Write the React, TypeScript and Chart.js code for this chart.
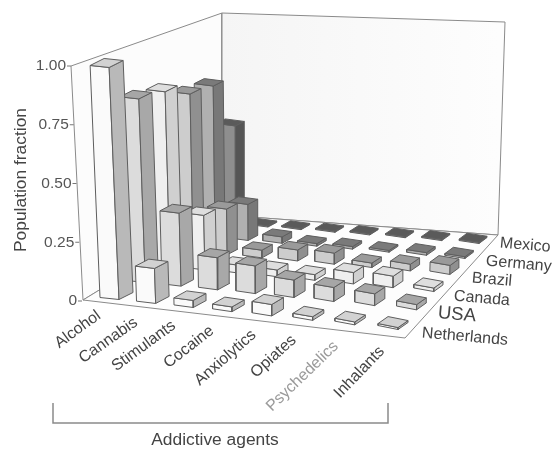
import React, { useEffect, useRef } from "react";
import { Chart, registerables } from "chart.js";

Chart.register(...registerables);

const categories = ["Alcohol", "Cannabis", "Stimulants", "Cocaine", "Anxiolytics", "Opiates", "Psychedelics", "Inhalants"];
const countries = ["Netherlands", "USA", "Canada", "Brazil", "Germany", "Mexico"];
const yTicks = [0, 0.25, 0.5, 0.75, 1];
const yTickLabels = ["0", "0.25", "0.50", "0.75", "1.00"];

const netherlands = [1.0, 0.15, 0.03, 0.02, 0.048, 0.015, 0.012, 0.008];
const usa = [0.81, 0.32, 0.14, 0.12, 0.075, 0.06, 0.05, 0.022];
const canada = [0.79, 0.245, 0.035, 0.03, 0.025, 0.05, 0.05, 0.015];
const brazil = [0.73, 0.21, 0.035, 0.05, 0.05, 0.02, 0.03, 0.04];
const germany = [0.72, 0.17, 0.03, 0.012, 0.012, 0.008, 0.012, 0.008];
const mexico = [0.48, 0.006, 0.006, 0.006, 0.006, 0.006, 0.006, 0.006];
const seriesValues = [netherlands, usa, canada, brazil, germany, mexico];

// face shades per country: front, side, top
const frontColors = ["#fafafa", "#dcdcdc", "#efefef", "#cdcdcd", "#b0b0b0", "#8e8e8e"];
const sideColors = ["#b9b9b9", "#a8a8a8", "#d0d0d0", "#909090", "#787878", "#555555"];
const topColors = ["#d2d2d2", "#a6a6a6", "#dedede", "#9a9a9a", "#7a7a7a", "#5a5a5a"];

type Pt = [number, number];

// projection of the box
const cornerL: Pt = [83, 300];
const cornerF: Pt = [405, 338];
const cornerB: Pt = [222, 215];
const cornerR: Pt = [498, 235];
const topL: Pt = [71, 66];
const topB: Pt = [222, 13];
const topR: Pt = [505, 22];
const yZeroPx = 301;
const yOnePx = 66;
const canvasW = 553;
const canvasH = 449;

function squareToQuad(p0: Pt, p1: Pt, p2: Pt, p3: Pt) {
  const dx1 = p1[0] - p2[0], dx2 = p3[0] - p2[0], sx = p0[0] - p1[0] + p2[0] - p3[0];
  const dy1 = p1[1] - p2[1], dy2 = p3[1] - p2[1], sy = p0[1] - p1[1] + p2[1] - p3[1];
  const den = dx1 * dy2 - dx2 * dy1;
  const g = (sx * dy2 - dx2 * sy) / den;
  const h = (dx1 * sy - sx * dy1) / den;
  const a = p1[0] - p0[0] + g * p1[0], b = p3[0] - p0[0] + h * p3[0], c = p0[0];
  const d = p1[1] - p0[1] + g * p1[1], e = p3[1] - p0[1] + h * p3[1], f = p0[1];
  return (u: number, v: number): Pt => {
    const w = g * u + h * v + 1;
    return [(a * u + b * v + c) / w, (d * u + e * v + f) / w];
  };
}

const cellCentre = squareToQuad([116.5, 295], [393, 324], [473, 239], [230.5, 221]);

function bilinear(u: number, v: number, a: Pt, b: Pt, c: Pt, d: Pt): Pt {
  const f = (k: 0 | 1) =>
    (1 - u) * (1 - v) * a[k] + u * (1 - v) * b[k] + u * v * c[k] + (1 - u) * v * d[k];
  return [f(0), f(1)];
}

function boxFaces(i: number, j: number, value: number) {
  const u = i / 7, v = j / 5;
  const c = cellCentre(u, v);
  const fv = bilinear(u, v, [19, 2], [20, 4], [20, 3], [19, 2.5]);
  const sv = bilinear(u, v, [14, -7], [10, -7], [8, -6], [9, -4.5]);
  const up = bilinear((i + 0.5) / 8, (j + 0.5) / 6, [-12, -234], [7, -245], [7, -213], [0, -202]);
  const base = (a: number, b: number): Pt => [c[0] + a * fv[0] + b * sv[0], c[1] + a * fv[1] + b * sv[1]];
  const lift = (p: Pt): Pt => [p[0] + up[0] * value, p[1] + up[1] * value];
  const fl = base(-0.5, -0.5), fr = base(0.5, -0.5), br = base(0.5, 0.5), bl = base(-0.5, 0.5);
  return {
    front: [fl, fr, lift(fr), lift(fl)],
    side: [fr, br, lift(br), lift(fr)],
    top: [lift(fl), lift(fr), lift(br), lift(bl)],
  };
}

const toY = (py: number) => (yZeroPx - py) / (yZeroPx - yOnePx);
const yMin = toY(canvasH);
const yMax = toY(0);
const toData = (pts: Pt[]) => pts.map((p) => ({ x: p[0], y: toY(p[1]) }));

function polygon(pts: Pt[], fill: any, stroke: string, width = 1) {
  const closed = [...pts, pts[0]];
  return {
    data: toData(closed),
    backgroundColor: fill,
    borderColor: stroke,
    borderWidth: width,
    fill: "shape",
    pointRadius: 0,
    tension: 0,
    clip: false,
  };
}

function segment(pts: Pt[], stroke: string, width = 1) {
  return {
    data: toData(pts),
    borderColor: stroke,
    borderWidth: width,
    fill: false,
    pointRadius: 0,
    tension: 0,
    clip: false,
  };
}

const lerp = (a: number, b: number, t: number) => a + (b - a) * t;
const axisX = (value: number) => lerp(cornerL[0] - 1, topL[0], value);

const categoryLabelAnchors: [number, number, number][] = [
  [99, 314, 36], [136, 321, 35], [174, 324, 36], [212, 329, 38],
  [254, 333, 41], [294, 338, 42], [336, 344, 44], [382, 349, 46],
];
const countryLabelAnchors: [number, number, number][] = [
  [422, 333, 16], [438, 313, 18.5], [454, 296, 16], [472, 278, 16], [486, 261, 16], [500, 243, 16],
];

const textPlugin = {
  id: "chartText",
  afterDraw(chart: any) {
    const ctx = chart.ctx;
    const yScale = chart.scales.y;
    const family = '"Liberation Sans", Arial, sans-serif';
    ctx.save();
    ctx.textBaseline = "middle";
    ctx.fillStyle = "#555555";
    ctx.font = `15.5px ${family}`;
    ctx.textAlign = "right";
    yTicks.forEach((t, k) => {
      ctx.fillText(yTickLabels[k], axisX(t) - 5, yScale.getPixelForValue(t));
    });
    ctx.fillStyle = "#444444";
    categories.forEach((label, k) => {
      const [x, y, deg] = categoryLabelAnchors[k];
      ctx.save();
      ctx.translate(x, y);
      ctx.rotate((-deg * Math.PI) / 180);
      ctx.fillStyle = label === "Psychedelics" ? "#9a9a9a" : "#444444";
      ctx.font = `16px ${family}`;
      ctx.textAlign = "right";
      ctx.fillText(label, 0, 0);
      ctx.restore();
    });
    countries.forEach((label, k) => {
      const [x, y, size] = countryLabelAnchors[k];
      ctx.save();
      ctx.translate(x, y);
      ctx.rotate((5 * Math.PI) / 180);
      ctx.font = `${size}px ${family}`;
      ctx.textAlign = "left";
      ctx.fillText(label, 0, 0);
      ctx.restore();
    });
    ctx.save();
    ctx.translate(21, 180);
    ctx.rotate(-Math.PI / 2);
    ctx.font = `17.4px ${family}`;
    ctx.textAlign = "center";
    ctx.fillStyle = "#444444";
    ctx.fillText("Population fraction", 0, 0);
    ctx.restore();
    ctx.font = `17.4px ${family}`;
    ctx.textAlign = "center";
    ctx.fillText("Addictive agents", 215, 440);
    ctx.restore();
  },
};

export default function App() {
  const ref = useRef<HTMLCanvasElement | null>(null);
  useEffect(() => {
    const canvas = ref.current!;
    const ctx = canvas.getContext("2d")!;
    const wallFill = ctx.createLinearGradient(cornerB[0], 0, cornerR[0], 0);
    wallFill.addColorStop(0, "#f5f5f5");
    wallFill.addColorStop(1, "#fdfdfd");

    const painter: any[] = [];
    painter.push(polygon([cornerL, topL, topB, cornerB], "#fcfcfc", "#8a8a8a", 1));
    painter.push(polygon([cornerB, topB, topR, cornerR], wallFill, "#8a8a8a", 1));
    painter.push(polygon([cornerL, cornerF, cornerR, cornerB], "#fdfdfd", "#8a8a8a", 1));
    yTicks.forEach((t) => {
      const px = yZeroPx + (yOnePx - yZeroPx) * t;
      painter.push(segment([[axisX(t) - 4, px], [axisX(t), px]], "#777777", 1));
    });
    // bracket below the categories
    painter.push(segment([[53, 403], [53, 423], [388, 423], [388, 403]], "#8a8a8a", 1.5));

    for (let j = countries.length - 1; j >= 0; j--) {
      for (let i = 0; i < categories.length; i++) {
        const faces = boxFaces(i, j, seriesValues[j][i]);
        const edge = "#5e5e5e";
        painter.push(polygon(faces.front, frontColors[j], edge, 1));
        painter.push(polygon(faces.side, sideColors[j], edge, 1));
        painter.push(polygon(faces.top, topColors[j], edge, 1));
      }
    }

    const chart = new Chart(canvas, {
      type: "line",
      data: { datasets: painter.slice().reverse() },
      options: {
        animation: false,
        responsive: false,
        events: [],
        layout: { padding: 0 },
        plugins: { legend: { display: false }, tooltip: { enabled: false } },
        scales: {
          x: { type: "linear", display: false, min: 0, max: canvasW },
          y: { type: "linear", display: false, min: yMin, max: yMax },
        },
      },
      plugins: [textPlugin],
    } as any);
    return () => chart.destroy();
  }, []);
  return (
    <canvas
      ref={ref}
      width={canvasW}
      height={canvasH}
      style={{ position: "absolute", left: 0, top: 0, width: canvasW, height: canvasH, display: "block", background: "#ffffff" }}
    />
  );
}
